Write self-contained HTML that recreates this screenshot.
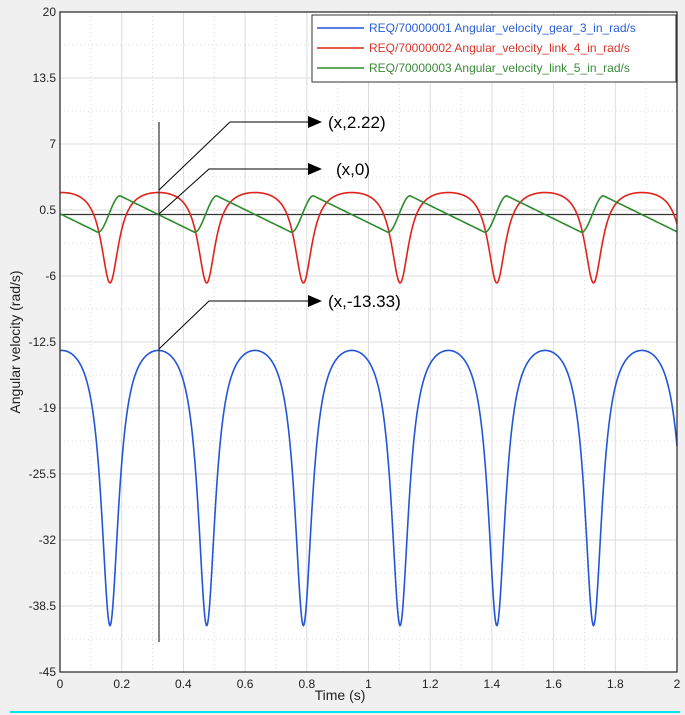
<!DOCTYPE html>
<html><head><meta charset="utf-8">
<style>
html,body{margin:0;padding:0;background:#f0f0f0;}
body{width:685px;height:715px;overflow:hidden;position:relative;font-family:"Liberation Sans",Arial,sans-serif;}
</style></head>
<body>
<svg id="s" width="685" height="715" xmlns="http://www.w3.org/2000/svg" style="position:absolute;left:0;top:0">
<rect x="0" y="0" width="685" height="715" fill="#f0f0f0"/>
<rect x="60" y="12" width="617" height="660" fill="#fff"/>
<g id="grid"></g>
<g id="ticks" font-size="12" fill="#222" font-family="Liberation Sans, Arial, sans-serif"></g>
<line x1="60" y1="214.5" x2="677" y2="214.5" stroke="#333" stroke-width="1.3"/>
<path id="red" fill="none" stroke="#e0231a" stroke-width="1.6"/>
<path id="green" fill="none" stroke="#2e8b2e" stroke-width="1.6"/>
<path id="blue" fill="none" stroke="#2255d8" stroke-width="1.6"/>
<rect x="60" y="12" width="617" height="660" fill="none" stroke="#333" stroke-width="1.3"/>
<rect x="312" y="15" width="364" height="67" fill="#fff" stroke="#333" stroke-width="1"/>
<line x1="317" y1="28" x2="364" y2="28" stroke="#2255d8" stroke-width="1.6"/>
<line x1="317" y1="48" x2="364" y2="48" stroke="#e0231a" stroke-width="1.6"/>
<line x1="317" y1="68" x2="364" y2="68" stroke="#2e8b2e" stroke-width="1.6"/>
<g font-size="12" font-family="Liberation Sans, Arial, sans-serif">
<text x="369" y="32" fill="#2a5fd6">REQ/70000001 Angular_velocity_gear_3_in_rad/s</text>
<text x="369" y="52" fill="#d8362b">REQ/70000002 Angular_velocity_link_4_in_rad/s</text>
<text x="369" y="72" fill="#3a8a3a">REQ/70000003 Angular_velocity_link_5_in_rad/s</text>
</g>
<line x1="159" y1="122" x2="159" y2="642" stroke="#333" stroke-width="1.2"/>
<g stroke="#000" stroke-width="1" fill="none">
<polyline points="159,190 230,122 310,122"/>
<polyline points="159,214 209,169 310,169"/>
<polyline points="159,349 209,301 310,301"/>
</g>
<g fill="#000">
<polygon points="308,116 322,122 308,128"/>
<polygon points="308,163 322,169 308,175"/>
<polygon points="308,295 322,301 308,307"/>
</g>
<g font-size="17" fill="#000" font-family="Liberation Sans, Arial, sans-serif">
<text x="328" y="128">(x,2.22)</text>
<text x="336" y="175">(x,0)</text>
<text x="328" y="307">(x,-13.33)</text>
</g>
<text x="340" y="700" font-size="14" text-anchor="middle" fill="#222">Time (s)</text>
<text transform="translate(20,342) rotate(-90)" font-size="14" text-anchor="middle" fill="#222">Angular velocity (rad/s)</text>
<line x1="10" y1="712" x2="680" y2="712" stroke="#00e5ee" stroke-width="2"/>
</svg>
<script>
var X0=60,X1=677,Y0=12,Y1=672;
function Y(v){return Y0+(20-v)*(Y1-Y0)/65;}
function px(t){return X0+t*(X1-X0)/2;}
var g='',tk='';
for(var i=0;i<=20;i++){var x=px(i*0.1);
 if(i%2==0) g+='<line x1="'+x+'" y1="12" x2="'+x+'" y2="672" stroke="#dcdcdc" stroke-width="1"/>';
 else g+='<line x1="'+x+'" y1="12" x2="'+x+'" y2="672" stroke="#d8d8d8" stroke-width="1" stroke-dasharray="1,3"/>';
 if(i%2==0){var lab=(i/10).toString();tk+='<text x="'+x+'" y="688" text-anchor="middle">'+lab+'</text>';}
}
for(var j=0;j<=20;j++){var v=20-j*3.25,y=Y(v);
 if(j%2==0){g+='<line x1="60" y1="'+y+'" x2="677" y2="'+y+'" stroke="#dcdcdc" stroke-width="1"/>';
  tk+='<text x="56" y="'+(y+4)+'" text-anchor="end">'+(Math.round(v*10)/10)+'</text>';}
 else g+='<line x1="60" y1="'+y+'" x2="677" y2="'+y+'" stroke="#d8d8d8" stroke-width="1" stroke-dasharray="1,3"/>';
}
document.getElementById('grid').innerHTML=g;
document.getElementById('ticks').innerHTML=tk;
var D0=110,P=96.7,e=0.8,fmin=(1-e)/(1+e);
function dipShape(x){var p=((x-D0)/P)%1;if(p<0)p+=1;var f=(1-e)/(1-e*Math.cos(2*Math.PI*p));return (f-fmin)/(1-fmin);}
function green(x){var r=((x-D0)/P)%1;if(r<0)r+=1;var d=r*P;
 var lo=-1.7,hi=1.9,a=12,b=10;
 if(d>=P-a){var s=(d-(P-a))/(a+b);s=s*s*(3-2*s);return lo+(hi-lo)*s;}
 if(d<=b){var s=(d+a)/(a+b);s=s*s*(3-2*s);return lo+(hi-lo)*s;}
 var s=(d-b)/(P-a-b);return hi-(hi-lo)*s;}
var pr='',pg='',pb='';
for(var x=X0;x<=X1;x+=0.5){var q=dipShape(x);
 var c=(x==X0?'M':'L');
 pr+=c+x.toFixed(1)+','+Y(2.22-8.9*q).toFixed(2);
 pb+=c+x.toFixed(1)+','+Y(-13.33-27.1*q).toFixed(2);
 pg+=c+x.toFixed(1)+','+Y(green(x)).toFixed(2);}
document.getElementById('red').setAttribute('d',pr);
document.getElementById('blue').setAttribute('d',pb);
document.getElementById('green').setAttribute('d',pg);
</script>
</body></html>
